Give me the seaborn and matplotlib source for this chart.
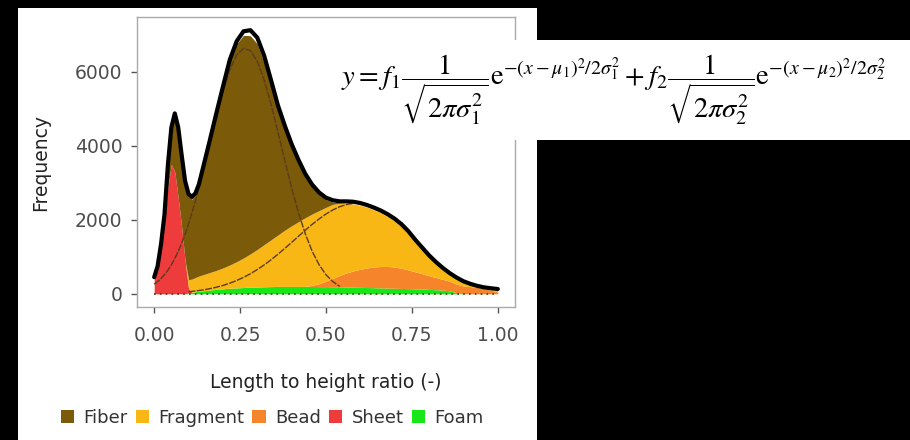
import numpy as np
import pandas as pd
import matplotlib
matplotlib.use("Agg")
import matplotlib.pyplot as plt
from matplotlib.patches import Patch, Rectangle
import seaborn as sns

# Length-to-height ratio grid (finer where the sheet peak is narrow)
ratio = [0.00, 0.01, 0.02, 0.03, 0.04, 0.05, 0.06, 0.07, 0.08, 0.09,
         0.10, 0.11, 0.12, 0.13, 0.14,
         0.16, 0.18, 0.20, 0.22, 0.24, 0.26, 0.28, 0.30,
         0.32, 0.34, 0.36, 0.38, 0.40, 0.42, 0.44, 0.46,
         0.48, 0.50, 0.52, 0.54, 0.56, 0.58, 0.60, 0.62,
         0.64, 0.66, 0.68, 0.70, 0.72, 0.74, 0.76, 0.78,
         0.80, 0.82, 0.84, 0.86, 0.88, 0.90, 0.92, 0.94,
         0.96, 0.98, 1.00]

# Frequencies per particle shape (stacked, bottom to top: foam, sheet, bead, fragment, fiber)
foam = [0, 0, 0, 0, 0, 0, 0, 0, 0, 0,
        25, 40, 55, 70, 80,
        100, 120, 135, 150, 160, 170, 180, 185,
        190, 195, 200, 200, 200, 200, 200, 200,
        195, 195, 190, 190, 185, 180, 175, 170,
        165, 160, 155, 150, 145, 140, 135, 130,
        120, 110, 100, 80, 30, 0, 0, 0,
        0, 0, 0]

sheet = [420, 700, 1250, 2000, 2900, 3500, 3300, 2600, 1800, 900,
         120, 0, 0, 0, 0,
         0, 0, 0, 0, 0, 0, 0, 0,
         0, 0, 0, 0, 0, 0, 0, 0,
         0, 0, 0, 0, 0, 0, 0, 0,
         0, 0, 0, 0, 0, 0, 0, 0,
         0, 0, 0, 0, 0, 0, 0, 0,
         0, 0, 0]

bead = [0, 0, 0, 0, 0, 0, 0, 0, 0, 0,
        0, 0, 0, 0, 0,
        0, 0, 0, 0, 0, 0, 0, 0,
        0, 0, 0, 0, 0, 0, 0, 30,
        80, 150, 230, 310, 380, 440, 490, 530,
        560, 580, 585, 575, 545, 505, 460, 415,
        370, 330, 290, 260, 230, 210, 195, 175,
        140, 95, 50]

fragment = [0, 0, 0, 0, 0, 0, 0, 0, 0, 0,
            235, 360, 385, 410, 430,
            470, 510, 565, 630, 710, 800, 900, 1015,
            1140, 1265, 1390, 1520, 1640, 1750, 1860, 1930,
            1975, 1995, 2000, 1950, 1875, 1810, 1730, 1640,
            1545, 1450, 1350, 1245, 1130, 985, 805, 645,
            495, 365, 260, 170, 135, 90, 40, 10,
            10, 30, 55]

fiber = [20, 40, 80, 120, 550, 930, 1520, 1840, 1890, 2100,
         2270, 2160, 2230, 2440, 2780,
         3460, 4170, 4850, 5490, 5890, 6020, 5900, 5560,
         4920, 4140, 3360, 2710, 2110, 1590, 1110, 730,
         440, 210, 60, 10, 0, 0, 0, 0,
         0, 0, 0, 0, 0, 0, 0, 0,
         0, 0, 0, 0, 0, 0, 0, 0,
         0, 0, 0]

# Overall fitted curve
fit_total = [450, 750, 1350, 2150, 3500, 4500, 4880, 4500, 3750, 3050,
             2700, 2620, 2720, 2960, 3330,
             4080, 4850, 5600, 6330, 6830, 7100, 7130, 6930,
             6440, 5780, 5100, 4550, 4050, 3620, 3240, 2950,
             2740, 2600, 2530, 2500, 2500, 2490, 2455, 2400,
             2330, 2250, 2150, 2030, 1880, 1690, 1460, 1250,
             1040, 860, 700, 560, 440, 340, 270, 215,
             175, 150, 130]

# Two Gaussian components (drawn over ratio 0.00-0.54 and 0.10-0.58)
mode1 = [260, 330, 415, 520, 640, 785, 955, 1150, 1365, 1615,
         1890, 2190, 2515, 2865, 3230,
         3995, 4760, 5470, 6055, 6460, 6640, 6580, 6285,
         5785, 5125, 4380, 3610, 2865, 2190, 1615, 1145,
         785, 515, 330, 200]
mode2 = [56, 66, 77, 89, 102,
         135, 176, 226, 287, 359, 445, 543, 656,
         781, 920, 1069, 1228, 1391, 1557, 1722, 1880,
         2026, 2158, 2269, 2356, 2416, 2446]

shapes = ["Fiber", "Fragment", "Bead", "Sheet", "Foam"]
shape_colors = {"Fiber": "#7b5a0a", "Fragment": "#f9b715", "Bead": "#f5842a",
                "Sheet": "#ee3b3b", "Foam": "#17e617"}

sns.set_theme(style="white")
plt.rcParams["font.family"] = ["DejaVu Sans"]
plt.rcParams["mathtext.fontset"] = "stix"

fig = plt.figure(figsize=(9.1, 4.4), dpi=100, facecolor="black")
# white card holding the plot
fig.patches.append(Rectangle((18 / 910, 0), (537 - 18) / 910, 1 - 8 / 440,
                             transform=fig.transFigure, facecolor="white",
                             edgecolor="none", zorder=-10))

ax = fig.add_axes([137 / 910, 1 - 307 / 440, (515 - 137) / 910, (307 - 17) / 440])
ax.set_facecolor("white")

x = np.array(ratio)
layers = {"Foam": foam, "Sheet": sheet, "Bead": bead, "Fragment": fragment, "Fiber": fiber}
base = np.zeros_like(x)
for name in ["Foam", "Sheet", "Bead", "Fragment", "Fiber"]:
    top = base + np.array(layers[name], dtype=float)
    ax.fill_between(x, base, top, color=shape_colors[name], linewidth=0, zorder=1)
    base = top

# bin baseline
ax.hlines(0, x[0], x[-1], colors="#4a3a1a", linestyles=(0, (1, 2.5)), linewidth=1.2, zorder=2)

df_fit = pd.DataFrame({"ratio": ratio, "freq": fit_total})
df_m1 = pd.DataFrame({"ratio": ratio[:35], "freq": mode1})
df_m2 = pd.DataFrame({"ratio": ratio[10:37], "freq": mode2})

sns.lineplot(data=df_m1, x="ratio", y="freq", ax=ax, color="#5a3c1c",
             linewidth=1.0, linestyle=(0, (5, 1)), zorder=3)
sns.lineplot(data=df_m2, x="ratio", y="freq", ax=ax, color="#5a3c1c",
             linewidth=1.0, linestyle=(0, (5, 1)), zorder=3)
sns.lineplot(data=df_fit, x="ratio", y="freq", ax=ax, color="black",
             linewidth=3.0, zorder=4)

ymax = max(fit_total)
ax.set_xlim(-0.05, 1.05)
ax.set_ylim(-0.05 * ymax, 1.05 * ymax)
ax.set_xticks([0, 0.25, 0.5, 0.75, 1.0])
ax.set_xticklabels(["0.00", "0.25", "0.50", "0.75", "1.00"])
ax.set_yticks([0, 2000, 4000, 6000])
ax.set_yticklabels(["0", "2000", "4000", "6000"])
ax.tick_params(axis="both", which="both", bottom=True, left=True, length=4.5, width=1,
               color="#555555", labelsize=13.5, labelcolor="#4d4d4d")
ax.tick_params(axis="x", pad=9)
ax.tick_params(axis="y", pad=6)
for sp in ax.spines.values():
    sp.set_color("#aaaaaa")
    sp.set_linewidth(1.0)
ax.set_xlabel("Length to height ratio (-)", fontsize=13.5, color="#222222", labelpad=20)
ax.set_ylabel("Frequency", fontsize=13.5, color="#222222", labelpad=18)

handles = [Patch(facecolor=shape_colors[s], edgecolor="none") for s in shapes]
fig.legend(handles, shapes, loc="center", bbox_to_anchor=(272 / 910, 1 - 418 / 440),
           ncol=5, frameon=False, fontsize=13, handlelength=0.75, handleheight=0.75,
           handletextpad=0.5, columnspacing=0.45, labelcolor="#333333")

# formula card
fig.patches.append(Rectangle((330 / 910, 1 - 140 / 440), 580 / 910, 100 / 440,
                             transform=fig.transFigure, facecolor="white",
                             edgecolor="none", zorder=5))
formula = (r"$y = f_1\dfrac{1}{\sqrt{2\pi\sigma_1^2}}\mathrm{e}^{-(x-\mu_1)^2/2\sigma_1^2}"
           r" + f_2\dfrac{1}{\sqrt{2\pi\sigma_2^2}}\mathrm{e}^{-(x-\mu_2)^2/2\sigma_2^2}$")
fig.text(341 / 910, 1 - 90 / 440, formula, fontsize=20.5, ha="left", va="center",
         color="black", zorder=6)

fig.savefig("out.png", dpi=100, facecolor="black")
